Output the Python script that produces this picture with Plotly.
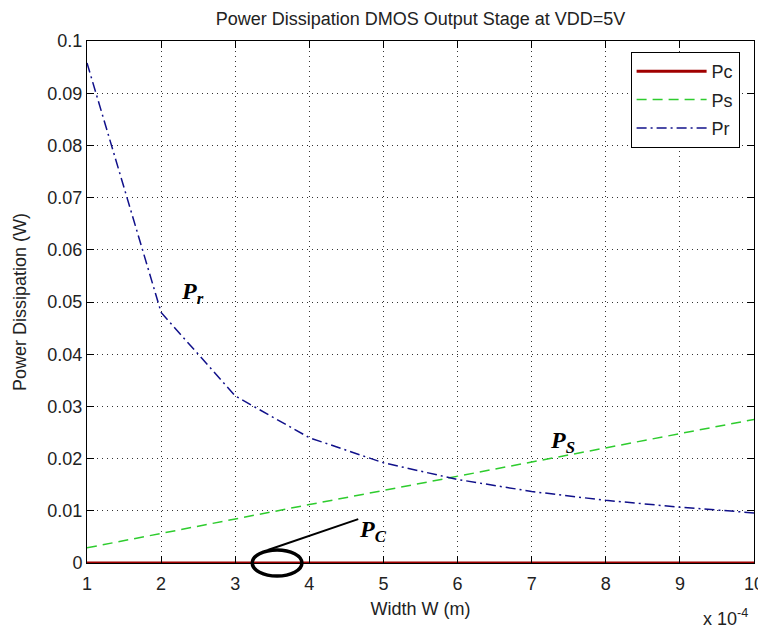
import plotly.graph_objects as go

# Width W in units of 1e-4 m
width = [1, 2, 3, 4, 5, 6, 7, 8, 9, 10]
pc = [0, 0, 0, 0, 0, 0, 0, 0, 0, 0]
ps = [0.0029, 0.0057, 0.0085, 0.0112, 0.0139, 0.0166, 0.0194, 0.0221, 0.0248, 0.0275]
pr = [0.0958, 0.0480, 0.0320, 0.0240, 0.0192, 0.0160, 0.0137, 0.0120, 0.0107, 0.0096]
y_ticks = [0, 0.01, 0.02, 0.03, 0.04, 0.05, 0.06, 0.07, 0.08, 0.09, 0.1]
y_labels = ["0", "0.01", "0.02", "0.03", "0.04", "0.05", "0.06", "0.07", "0.08", "0.09", "0.1"]

SANS = "Liberation Sans, Arial"
TXT = "#222222"

fig = go.Figure()
fig.add_trace(go.Scatter(x=width, y=pc, mode="lines", name="Pc", legendgroup="a",
                         cliponaxis=False, line=dict(color="#a00000", width=3)))
fig.add_trace(go.Scatter(x=width, y=ps, mode="lines", name="Ps", legendgroup="b",
                         line=dict(color="#2ecc2e", width=1.5, dash="10px,6px")))
fig.add_trace(go.Scatter(x=width, y=pr, mode="lines", name="Pr", legendgroup="c",
                         line=dict(color="#10108a", width=1.5, dash="10px,4px,2px,4px")))

axis_common = dict(showline=True, linecolor="black", linewidth=1, mirror="ticks",
                   ticks="inside", ticklen=7, tickcolor="black", automargin=False,
                   showgrid=True, gridcolor="#333333", griddash="1px,4px", gridwidth=1,
                   zeroline=False, tickfont=dict(family=SANS, size=18, color=TXT))

# the page body adds an 8px offset, so the figure is 8px smaller and shifted
fig.update_layout(
    width=758, height=624,
    margin=dict(l=79, r=12, t=33, b=69),
    paper_bgcolor="white", plot_bgcolor="white",
    title=dict(text="Power Dissipation DMOS Output Stage at VDD=5V", x=0.5, xref="paper",
               xanchor="center", y=1 - 11 / 624, yanchor="middle",
               font=dict(family=SANS, size=18, color=TXT)),
    xaxis=dict(range=[1, 10], tickvals=width, ticklabelstandoff=4, **axis_common,
               title=dict(text="Width W (m)", standoff=9,
                          font=dict(family=SANS, size=18, color=TXT))),
    yaxis=dict(range=[0, 0.1], tickvals=y_ticks, ticktext=y_labels, **axis_common,
               title=dict(text="Power Dissipation (W)", standoff=16,
                          font=dict(family=SANS, size=18, color=TXT))),
    legend=dict(x=0.815, y=0.979, xanchor="left", yanchor="top", bordercolor="black", borderwidth=1,
                bgcolor="white", font=dict(family=SANS, size=18, color=TXT),
                itemwidth=70, tracegroupgap=2),
    showlegend=True,
)

serif = dict(family="Liberation Serif, Times New Roman", size=24, color="black")
fig.add_annotation(x=2.43, y=0.0518, xref="x", yref="y", showarrow=False,
                   text="<b><i>P</i></b><sub><b><i>r</i></b></sub>", font=serif)
fig.add_annotation(x=7.41, y=0.0232, xref="x", yref="y", showarrow=False,
                   text="<b><i>P</i></b><sub><b><i>S</i></b></sub>", font=serif)
fig.add_annotation(x=4.86, y=0.0061, xref="x", yref="y", showarrow=False,
                   text="<b><i>P</i></b><sub><b><i>C</i></b></sub>", font=serif)
fig.add_annotation(x=1.0, y=-0.105, xref="paper", yref="paper", showarrow=False,
                   xanchor="right", yanchor="middle", xshift=-4,
                   text="x 10<sup>-4</sup>", font=dict(family=SANS, size=18, color=TXT))

fig.add_shape(type="line", x0=3.44, y0=0.0025, x1=4.66, y1=0.0084,
              xref="x", yref="y", line=dict(color="black", width=2))
fig.add_shape(type="circle", x0=3.23, x1=3.90, y0=-0.025, y1=0.025, xref="x", yref="paper",
              line=dict(color="black", width=3.5))

fig.write_html("out.html")
